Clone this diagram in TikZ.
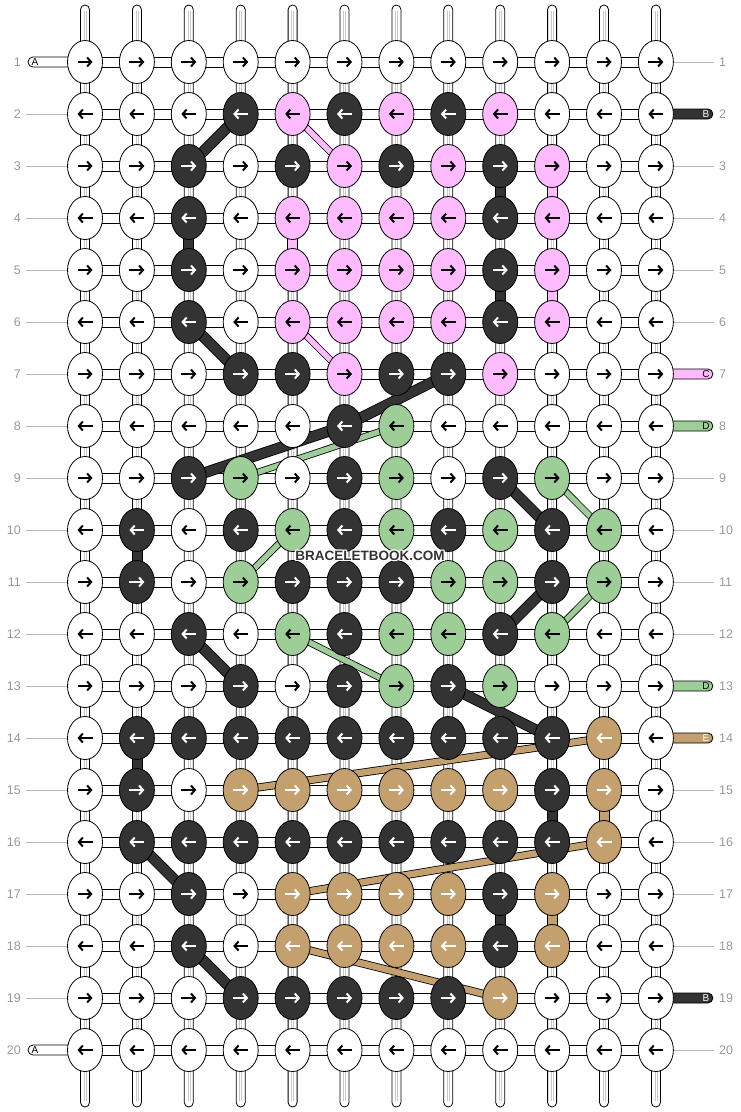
\documentclass[tikz,border=0pt]{standalone}
\usepackage{fontspec}
\setmainfont{Liberation Sans}
\usetikzlibrary{arrows.meta,calc,shapes.geometric}
\definecolor{cW}{HTML}{FFFFFF}
\definecolor{cK}{HTML}{333333}
\definecolor{cP}{HTML}{FFBBFF}
\definecolor{cG}{HTML}{9ECE97}
\definecolor{cT}{HTML}{C4A06E}
\colorlet{aW}{black}
\colorlet{aK}{white}
\colorlet{aP}{black}
\colorlet{aG}{black}
\colorlet{aT}{white}
\colorlet{tW}{black}
\colorlet{tK}{white}
\colorlet{tP}{black}
\colorlet{tG}{black}
\colorlet{tT}{white}
\definecolor{lbl}{HTML}{999999}
\definecolor{strg}{HTML}{C8C8C8}
\newcommand\dg[3]{\draw[line width=0.8pt, double=c#2, double distance=#3pt] #1;}
\begin{document}
\begin{tikzpicture}[x=1pt,y=-1pt,
  vbar/.style={fill=white, draw=black, line width=0.8pt, rounded corners=4.5pt},
  vline/.style={draw=strg, line width=0.6pt},
  vconn/.style={draw=black, line width=0.8pt},
  hconn/.style={fill=white, draw=black, line width=0.8pt},
  tabst/.style={draw=black, line width=0.8pt, rounded corners=5pt},
  knot/.style={ellipse, draw=black, line width=0.8pt, minimum width=35pt, minimum height=43pt, inner sep=0pt},
  arr/.style={line width=2pt, -{Straight Barb[length=4pt,width=9pt]}},
  numl/.style={text=lbl, font=\fontsize{12.5}{12.5}\selectfont, inner sep=0pt},
  tabl/.style={font=\fontsize{10}{10}\selectfont, inner sep=0pt},
  gline/.style={draw=lbl!70, line width=0.8pt}
]
\useasboundingbox (0,0) rectangle (740,1112);
\fill[white] (0,0) rectangle (740,1112);
% grid coordinates
\foreach \r in {1,...,20}{\foreach \c in {1,...,12}{
  \coordinate (p-\r-\c) at ({85+51.9*(\c-1)},{62+52*(\r-1)});}}
% vertical strings
\foreach \c in {1,...,12}{
  \draw[vbar] ($(p-1-\c)+(-4.5,-57)$) rectangle ($(p-20-\c)+(4.5,57)$);
  \draw[vline] ($(p-1-\c)+(-1,-51)$) -- ($(p-20-\c)+(-1,51)$);
  \draw[vline] ($(p-1-\c)+(1,-51)$) -- ($(p-20-\c)+(1,51)$);
}
% coloured vertical connectors
\foreach \r/\c/\col in {3/9/K,3/10/P,4/3/K,4/5/P,5/9/K,5/10/P,10/2/K,14/2/K,15/10/K,15/11/T,17/9/K,17/10/T}{
  \pgfmathtruncatemacro\rn{\r+1}
  \draw[vconn, fill=c\col] ($(p-\r-\c)+(-5,0)$) rectangle ($(p-\rn-\c)+(5,0)$);
}
% horizontal connectors
\foreach \r in {1,...,20}{\foreach \c in {1,...,11}{
  \pgfmathtruncatemacro\cn{\c+1}
  \draw[hconn] ($(p-\r-\c)+(0,-5)$) rectangle ($(p-\r-\cn)+(0,5)$);}}
% row numbers, lines and tabs
\foreach \r in {1,...,20}{
  \node[numl, anchor=east] (ln-\r) at ($(p-\r-1)+(-64,0)$) {\r};
  \node[numl, anchor=west] (rn-\r) at ($(p-\r-12)+(63,0)$) {\r};
}
\foreach \r in {2,...,19}{
  \draw[gline] ($(p-\r-1)+(-59,0)$) -- ($(p-\r-1)+(-17,0)$);
}
\foreach \r in {1,3,4,5,6,9,10,11,12,15,16,17,18,20}{
  \draw[gline] ($(p-\r-12)+(17,0)$) -- ($(p-\r-12)+(58,0)$);
}
\foreach \r in {1,20}{
  \draw[tabst, fill=white] ($(p-\r-1)+(-57,-5)$) rectangle ($(p-\r-1)+(-8,5)$);
  \node[tabl, text=black] (ta-\r) at ($(p-\r-1)+(-50,0.5)$) {A};
}
\foreach \r/\col/\lab in {2/K/B,7/P/C,8/G/D,13/G/D,14/T/E,19/K/B}{
  \draw[tabst, fill=c\col] ($(p-\r-12)+(8,-5)$) rectangle ($(p-\r-12)+(57,5)$);
  \node[tabl, text=t\col] (tb-\r) at ($(p-\r-12)+(50,0.5)$) {\lab};
}
% diagonal carried strings
\dg{(p-2-4) -- (p-3-3)}{K}{9.4}
\dg{(p-6-3) -- (p-7-4)}{K}{9.4}
\dg{(p-7-8) -- (p-8-6) -- (p-9-3)}{K}{9.4}
\dg{(p-9-9) -- (p-10-10)}{K}{9.4}
\dg{(p-11-10) -- (p-12-9)}{K}{9.4}
\dg{(p-12-3) -- (p-13-4)}{K}{9.4}
\dg{(p-13-8) -- (p-14-10)}{K}{9.4}
\dg{(p-16-2) -- (p-17-3)}{K}{9.4}
\dg{(p-18-3) -- (p-19-4)}{K}{9.4}
\dg{(p-2-5) -- (p-3-6)}{P}{5.4}
\dg{(p-6-5) -- (p-7-6)}{P}{5.4}
\dg{(p-8-7) -- (p-9-4)}{G}{5.4}
\dg{(p-9-10) -- (p-10-11)}{G}{5.4}
\dg{(p-10-5) -- (p-11-4)}{G}{5.4}
\dg{(p-11-11) -- (p-12-10)}{G}{5.4}
\dg{(p-12-5) -- (p-13-7)}{G}{5.4}
\dg{(p-14-11) -- (p-15-4)}{T}{6.4}
\dg{(p-16-11) -- (p-17-5)}{T}{6.4}
\dg{(p-18-5) -- (p-19-9)}{T}{6.4}
% knots
\foreach \r/\row in {
 1/{W,W,W,W,W,W,W,W,W,W,W,W},
 2/{W,W,W,K,P,K,P,K,P,W,W,W},
 3/{W,W,K,W,K,P,K,P,K,P,W,W},
 4/{W,W,K,W,P,P,P,P,K,P,W,W},
 5/{W,W,K,W,P,P,P,P,K,P,W,W},
 6/{W,W,K,W,P,P,P,P,K,P,W,W},
 7/{W,W,W,K,K,P,K,K,P,W,W,W},
 8/{W,W,W,W,W,K,G,W,W,W,W,W},
 9/{W,W,K,G,W,K,G,W,K,G,W,W},
 10/{W,K,W,K,G,K,G,K,G,K,G,W},
 11/{W,K,W,G,K,K,K,G,G,K,G,W},
 12/{W,W,K,W,G,K,G,G,K,G,W,W},
 13/{W,W,W,K,W,K,G,K,G,W,W,W},
 14/{W,K,K,K,K,K,K,K,K,K,T,W},
 15/{W,K,W,T,T,T,T,T,T,K,T,W},
 16/{W,K,K,K,K,K,K,K,K,K,T,W},
 17/{W,W,K,W,T,T,T,T,K,T,W,W},
 18/{W,W,K,W,T,T,T,T,K,T,W,W},
 19/{W,W,W,K,K,K,K,K,T,W,W,W},
 20/{W,W,W,W,W,W,W,W,W,W,W,W}}{
  \pgfmathsetmacro\xs{ifthenelse(mod(\r,2)==1,-7.5,7.5)}
  \pgfmathsetmacro\xe{-\xs}
  \foreach \col [count=\c] in \row {
    \node[knot, fill=c\col] (k-\r-\c) at (p-\r-\c) {};
    \draw[arr, draw=a\col] ($(k-\r-\c.center)+(\xs,0)$) -- ($(k-\r-\c.center)+(\xe,0)$);
  }
}
% watermark
\foreach \dx/\dy in {-1/0,1/0,0/-1,0/1,-1/-1,1/1,-1/1,1/-1}{
  \node[font=\bfseries\fontsize{13.5}{14}\selectfont, text=white, inner sep=0pt] at ($(370,556)+(\dx,\dy)$) {BRACELETBOOK.COM};
}
\node[font=\bfseries\fontsize{13.5}{14}\selectfont, text=cK, inner sep=0pt] (wm) at (370,556) {BRACELETBOOK.COM};
\end{tikzpicture}
\end{document}
